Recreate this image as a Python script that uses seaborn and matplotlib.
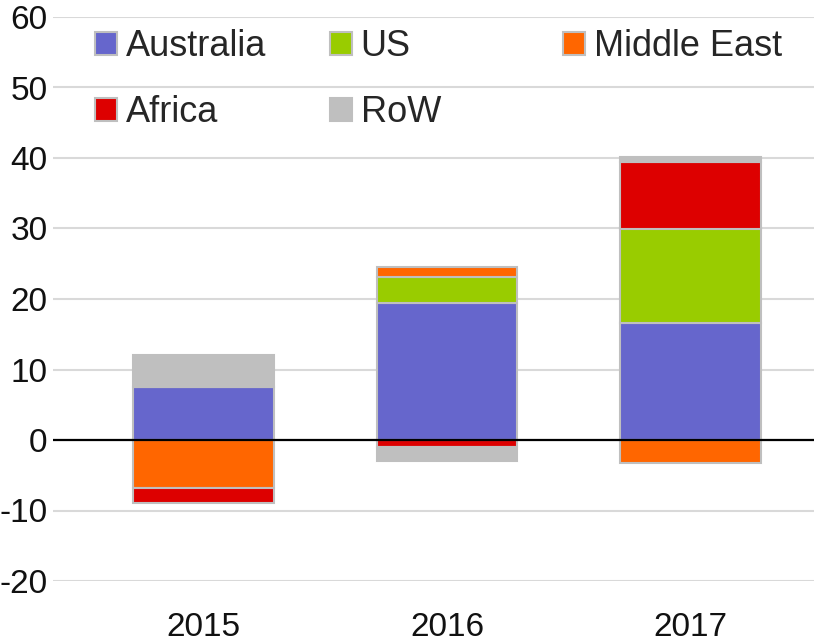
import matplotlib.pyplot as plt
import pandas as pd
import seaborn as sns
import numpy as np
from matplotlib.patches import Patch

# values
years = ["2015", "2016", "2017"]
australia = [7.5, 19.5, 16.6]
us = [0.0, 3.55, 13.4]
middle_east = [-6.8, 1.5, -3.3]
africa = [-2.2, -0.95, 9.5]
row = [4.6, -2.05, 0.7]

series = ["Australia", "US", "Middle East", "Africa", "RoW"]
colors = ["#6666cc", "#99cc00", "#ff6600", "#dd0000", "#bfbfbf"]

df = pd.DataFrame({"year": years, "Australia": australia, "US": us,
                   "Middle East": middle_east, "Africa": africa, "RoW": row})

sns.set_style("white")
plt.rcParams["font.family"] = ["Liberation Sans", "DejaVu Sans"]
plt.rcParams["axes.unicode_minus"] = False

W, H = 814, 643
fig = plt.figure(figsize=(W / 100, H / 100), dpi=100)
ax = fig.add_axes([53 / W, 62 / H, 761 / W, 564 / H])

# stack positives and negatives separately, like Excel
pos_base = np.zeros(len(years))
neg_base = np.zeros(len(years))
for name, c in zip(series, colors):
    vals = df[name].to_numpy()
    bottom = np.where(vals >= 0, pos_base, neg_base)
    sns.barplot(x=df["year"], y=vals, order=years, bottom=bottom, color=c,
                saturation=1, width=0.58, edgecolor="#bfbfbf", linewidth=1.5,
                ax=ax, zorder=2)
    pos_base = pos_base + np.where(vals >= 0, vals, 0)
    neg_base = neg_base + np.where(vals < 0, vals, 0)

ax.axhline(0, color="black", lw=1.6, zorder=4)
ax.set_ylim(-20, 60)
ax.set_yticks(range(-20, 61, 10))
ax.set_xlim(-0.621, 2.51)
ax.yaxis.grid(True, color="#d9d9d9", lw=1.5)
ax.set_axisbelow(True)
sns.despine(ax=ax, left=True, bottom=True)
ax.tick_params(axis="both", length=0, labelsize=24, colors="#111111")
ax.tick_params(axis="y", pad=4)
ax.tick_params(axis="x", pad=22)
ax.set_xlabel("")
ax.set_ylabel("")

# legend entries placed one by one (Excel uses an even grid)
spots = [(95, 47), (330, 47), (563, 47), (95, 113), (330, 113)]
for name, c, (px, py) in zip(series, colors, spots):
    fig.legend(handles=[Patch(facecolor=c, edgecolor="#bfbfbf", linewidth=1.5)],
               labels=[name], loc="center left",
               bbox_to_anchor=(px / W, 1 - py / H), frameon=False,
               borderpad=0, borderaxespad=0, handlelength=0.6,
               handleheight=0.6, handletextpad=0.25, fontsize=26)

fig.savefig("out.png", dpi=100)
